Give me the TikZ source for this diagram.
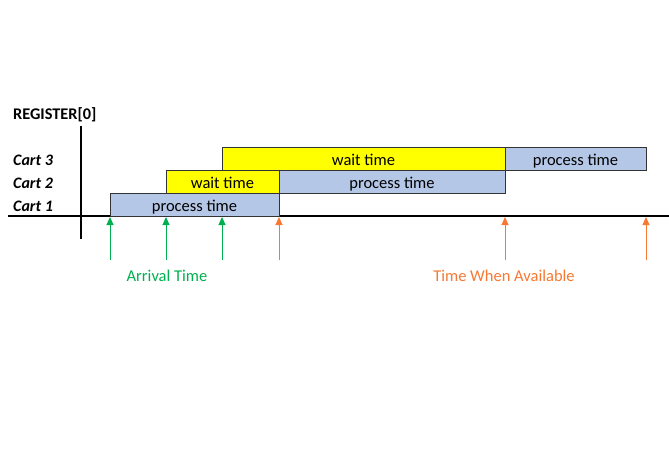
\documentclass[tikz,border=0pt]{standalone}
\usepackage{fontspec}
\setmainfont{Carlito}
\usetikzlibrary{arrows.meta}
\definecolor{procblue}{RGB}{180,199,231}
\definecolor{waityellow}{RGB}{255,255,0}
\definecolor{arrgreen}{RGB}{0,176,80}
\definecolor{availorange}{RGB}{247,120,50}

\begin{document}
\begin{tikzpicture}[x=1pt,y=-1pt,
    bar/.style={draw=black!80,line width=0.8pt,inner sep=0pt,outer sep=0pt,minimum height=23pt,text height=13.5pt,text depth=0pt,anchor=south west,font=\fontsize{16.5}{18}\selectfont},
    procbar/.style={bar,fill=procblue},
    waitbar/.style={bar,fill=waityellow},
    cartlabel/.style={anchor=west,inner sep=0pt,font=\fontsize{16}{18}\selectfont\bfseries\itshape},
    arr/.style={-{Triangle[width=7pt,length=8pt]},line width=0.9pt}]
    \useasboundingbox (0,0) rectangle (669,450); %画像の大きさ

    \draw[line width=1.4pt](8,216)--(669,216); %時間軸
    \draw[line width=1.4pt](81,126)--(81,239);  %縦軸
    \node[anchor=west,inner sep=0pt,font=\fontsize{16.3}{18}\selectfont\bfseries] (reg) at (13,115) {REGISTER[0]};

    \node[cartlabel] (c3) at (13,160) {Cart 3};
    \node[cartlabel] (c2) at (13,183) {Cart 2};
    \node[cartlabel] (c1) at (13,206) {Cart 1};

    %バー
    \node[procbar,minimum width=169pt] (p1) at (110,216) {process time};
    \node[waitbar,minimum width=113pt] (w2) at (166,193) {wait time};
    \node[procbar,minimum width=226pt] (p2) at (279,193) {process time};
    \node[waitbar,minimum width=283pt] (w3) at (222,170) {wait time};
    \node[procbar,minimum width=141pt] (p3) at (505,170) {process time};

    %矢印
    \foreach \x/\n in {110/1,166/2,222/3}{
        \coordinate (ga\n) at (\x,260);
        \coordinate (gt\n) at (\x,217);
        \draw[arr,arrgreen] (ga\n)--(gt\n);
    }
    \foreach \x/\n in {279/1,505/2,646/3}{
        \coordinate (oa\n) at (\x,260);
        \coordinate (ot\n) at (\x,217);
        \draw[arr,availorange] (oa\n)--(ot\n);
    }
    \node[text=arrgreen,font=\fontsize{16.5}{18}\selectfont] (arrival) at (167,276) {Arrival Time};
    \node[text=availorange,font=\fontsize{16.5}{18}\selectfont] (avail) at (504,276) {Time When Available};

\end{tikzpicture}
\end{document}
